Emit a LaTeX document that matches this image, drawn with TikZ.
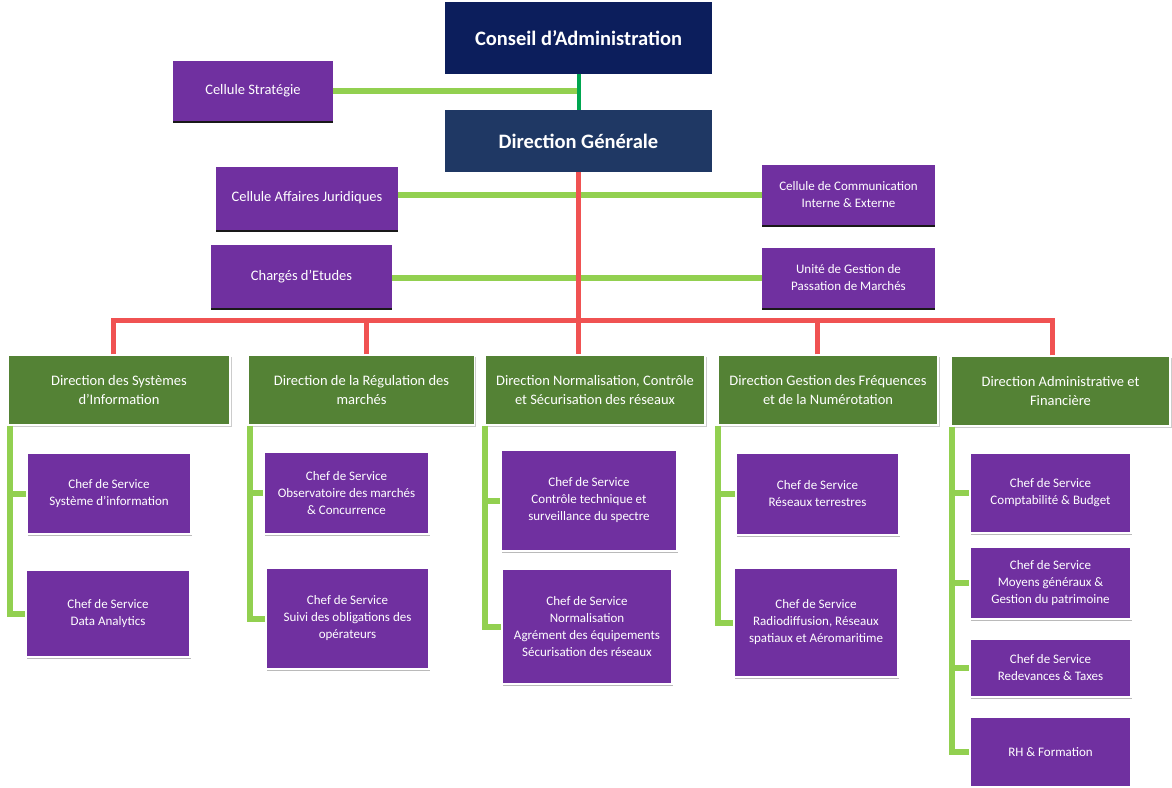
\documentclass[tikz,border=0pt]{standalone}
\usepackage{fontspec}
\setmainfont{Carlito}
\usepackage{tikz}
\usetikzlibrary{shadows}

\definecolor{navy}{RGB}{12,30,92}
\definecolor{dgblue}{RGB}{31,56,100}
\definecolor{violetbox}{RGB}{112,48,160}
\definecolor{leaf}{RGB}{84,130,53}
\definecolor{lime}{RGB}{146,208,80}
\definecolor{darkgreen}{RGB}{0,166,80}
\definecolor{redline}{RGB}{240,82,82}

\tikzset{
    headbox/.style={fill=navy, text=white, font=\bfseries\fontsize{20.5}{24}\selectfont, minimum width=267, minimum height=72, inner sep=0pt},
    cellbox/.style={fill=violetbox, text=white, align=center, font=\fontsize{13}{17}\selectfont, inner sep=0pt, drop shadow={shadow xshift=0pt, shadow yshift=-2pt, fill=black, opacity=.9}},
    dirbox/.style={fill=leaf, text=white, align=center, font=\fontsize{14.5}{19}\selectfont, minimum height=70, inner sep=0pt, draw=white, line width=1.5pt, drop shadow={shadow xshift=1.5pt, shadow yshift=-1.5pt, fill=black!50, opacity=.4}},
    servbox/.style={fill=violetbox, text=white, align=center, font=\fontsize{13}{17}\selectfont, inner sep=0pt, draw=white, line width=1.5pt, drop shadow={shadow xshift=1pt, shadow yshift=-2pt, fill=black!60, opacity=.45}},
    limeline/.style={draw=lime, line width=6pt},
    darkline/.style={draw=darkgreen, line width=4pt},
    redbus/.style={draw=redline, line width=5pt},
}

\begin{document}
\begin{tikzpicture}[x=1pt, y=-1pt]

    \useasboundingbox (0,0) rectangle (1172,787);

    \node[headbox] (ca) at (578.5,38) {Conseil d’Administration};
    \node[headbox, fill=dgblue, minimum height=62] (dg) at (578.5,141) {Direction Générale};
    \node[cellbox, font=\fontsize{14.5}{17}\selectfont, minimum width=160, minimum height=60] (cs) at (253,91) {Cellule Stratégie};
    \node[cellbox, font=\fontsize{14.5}{17}\selectfont, minimum width=182, minimum height=63] (caj) at (307,198) {Cellule Affaires Juridiques};
    \node[cellbox, minimum width=173, minimum height=60] (ccie) at (848.5,195) {Cellule de Communication\\Interne \& Externe};
    \node[cellbox, font=\fontsize{14.5}{17}\selectfont, minimum width=181, minimum height=63] (ce) at (301.5,276.5) {Chargés d’Etudes};
    \node[cellbox, minimum width=173, minimum height=60] (ug) at (848.5,278) {Unité de Gestion de\\Passation de Marchés};

    \node[dirbox, minimum width=222] (d1) at (119,390) {Direction des Systèmes\\d’Information};
    \node[dirbox, minimum width=226] (d2) at (361.5,390) {Direction de la Régulation des\\marchés};
    \node[dirbox, minimum width=220] (d3) at (595,390) {Direction Normalisation, Contrôle\\et Sécurisation des réseaux};
    \node[dirbox, minimum width=220] (d4) at (828,390) {Direction Gestion des Fréquences\\et de la Numérotation};
    \node[dirbox, minimum width=219] (d5) at (1060.5,391) {Direction Administrative et\\Financière};

    \node[servbox, minimum width=164, minimum height=81] (s11) at (109,493.5) {Chef de Service\\Système d’information};
    \node[servbox, minimum width=164, minimum height=87] (s12) at (108,613.5) {Chef de Service\\Data Analytics};
    \node[servbox, minimum width=165, minimum height=82] (s21) at (346.5,493) {Chef de Service\\Observatoire des marchés\\\& Concurrence};
    \node[servbox, minimum width=163, minimum height=101] (s22) at (347.5,618.5) {Chef de Service\\Suivi des obligations des\\opérateurs};
    \node[servbox, minimum width=176, minimum height=101] (s31) at (589,500.5) {Chef de Service\\Contrôle technique et\\surveillance du spectre};
    \node[servbox, minimum width=170, minimum height=115] (s32) at (587,626.5) {Chef de Service\\Normalisation\\Agrément des équipements\\Sécurisation des réseaux};
    \node[servbox, minimum width=163, minimum height=82] (s41) at (817.5,494) {Chef de Service\\Réseaux terrestres};
    \node[servbox, minimum width=164, minimum height=109] (s42) at (816,622.5) {Chef de Service\\Radiodiffusion, Réseaux\\spatiaux et Aéromaritime};
    \node[servbox, minimum width=161, minimum height=80] (s51) at (1050.5,493) {Chef de Service\\Comptabilité \& Budget};
    \node[servbox, minimum width=161, minimum height=72] (s52) at (1050.5,583) {Chef de Service\\Moyens généraux \&\\Gestion du patrimoine};
    \node[servbox, minimum width=161, minimum height=58] (s53) at (1050.5,668) {Chef de Service\\Redevances \& Taxes};
    \node[servbox, minimum width=161, minimum height=70] (s54) at (1050.5,752) {RH \& Formation};

    \coordinate (bus) at (578,320);

    \draw[limeline] (cs.east) -- (cs.east -| ca.south);
    \draw[darkline] (ca.south) -- (dg.north);
    \draw[limeline] (ccie.west -| caj.east) -- (ccie.west);
    \draw[limeline] (ug.west -| ce.east) -- (ug.west);

    \draw[limeline] ([xshift=3]d1.south west) |- (s11.west);
    \draw[limeline] ([xshift=3]d1.south west) |- (s12.west);
    \draw[limeline] ([xshift=2]d2.south west) |- (s21.west);
    \draw[limeline] ([xshift=2]d2.south west) |- (s22.west);
    \draw[limeline] ([xshift=1]d3.south west) |- (s31.west);
    \draw[limeline] ([xshift=1]d3.south west) |- (s32.west);
    \draw[limeline] ([xshift=1]d4.south west) |- (s41.west);
    \draw[limeline] ([xshift=1]d4.south west) |- (s42.west);
    \draw[limeline] ([xshift=2]d5.south west) |- (s51.west);
    \draw[limeline] ([xshift=2]d5.south west) |- (s52.west);
    \draw[limeline] ([xshift=2]d5.south west) |- (s53.west);
    \draw[limeline] ([xshift=2]d5.south west) |- (s54.west);

    \draw[redbus] (dg.south) -- (dg |- d3.north);
    \draw[redbus] ([xshift=-6]d1.north) |- (bus);
    \draw[redbus] ([xshift=5]d2.north) |- (bus);
    \draw[redbus] ([xshift=-11]d4.north) |- (bus);
    \draw[redbus] ([xshift=-8]d5.north) |- (bus);

\end{tikzpicture}
\end{document}
